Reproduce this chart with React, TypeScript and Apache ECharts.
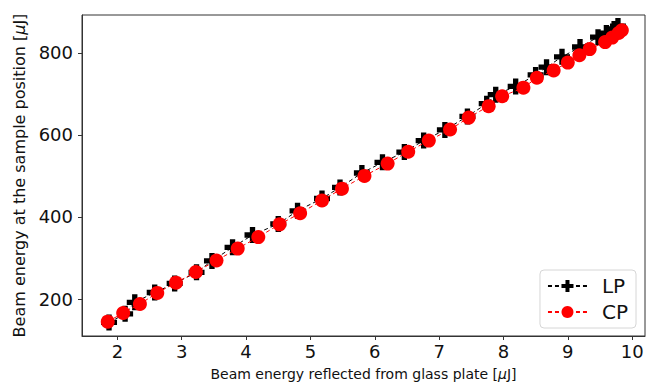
import React, { useEffect, useRef } from "react";
import * as echarts from "echarts";

const lpX = [1.87, 2.12, 2.27, 2.58, 2.89, 3.23, 3.47, 3.79, 4.10, 4.50, 4.80, 5.18, 5.46, 5.80, 6.12, 6.46, 6.76, 7.09, 7.44, 7.74, 7.88, 8.19, 8.50, 8.67, 8.91, 9.19, 9.47, 9.60, 9.72, 9.78];
const lpY = [143, 164, 192, 216, 238, 265, 293, 326, 356, 383, 415, 445, 472, 507, 533, 558, 586, 612, 645, 676, 698, 718, 746, 765, 790, 814, 838, 848, 858, 865];
const cpX = [1.85, 2.09, 2.35, 2.62, 2.91, 3.22, 3.54, 3.87, 4.19, 4.52, 4.84, 5.18, 5.49, 5.84, 6.20, 6.52, 6.84, 7.17, 7.46, 7.77, 7.98, 8.31, 8.52, 8.78, 9.00, 9.18, 9.34, 9.58, 9.69, 9.79, 9.84];
const cpY = [145, 166, 188, 215, 240, 266, 294, 323, 351, 382, 409, 440, 469, 500, 530, 559, 586, 613, 642, 670, 694, 715, 739, 757, 776, 794, 809, 826, 837, 848, 855];
const xTicks = [2, 3, 4, 5, 6, 7, 8, 9, 10];
const yTicks = [200, 400, 600, 800];
const seriesNames = ["LP", "CP"];

const PLUS = "path://M5,0H10V5H15V10H10V15H5V10H0V5H5Z";
const FONT = "DejaVu Sans";

export default function App() {
  const ref = useRef<HTMLDivElement>(null);
  useEffect(() => {
    if (!ref.current) return;
    const chart = echarts.init(ref.current, null, { renderer: "svg" });
    chart.setOption({
      animation: false,
      grid: {
        left: 82,
        top: 15,
        right: 9,
        bottom: 49,
        show: true,
        borderColor: "#333",
        borderWidth: 1,
        backgroundColor: "transparent",
      },
      legend: {
        orient: "vertical",
        right: 18,
        bottom: 58,
        backgroundColor: "#fff",
        borderColor: "#d6d6d6",
        borderWidth: 1,
        borderRadius: 4,
        padding: [6, 8, 6, 7],
        itemWidth: 39,
        itemHeight: 15,
        itemGap: 6,
        textStyle: { fontFamily: FONT, fontSize: 20, color: "#111", padding: [0, 0, 0, 10] },
        data: seriesNames,
      },
      xAxis: {
        type: "value",
        min: 1.45,
        max: 10.2,
        splitLine: { show: false },
        axisLine: { show: true, onZero: false, lineStyle: { color: "#333" } },
        axisTick: { show: true, length: 4, customValues: xTicks, lineStyle: { color: "#333" } },
        axisLabel: {
          customValues: xTicks,
          fontFamily: FONT,
          fontSize: 18,
          color: "#111",
          margin: 6,
        },
        name: "Beam energy reflected from glass plate [{i|μ}J]",
        nameLocation: "middle",
        nameGap: 31,
        nameTextStyle: {
          fontFamily: FONT,
          fontSize: 14,
          color: "#111",
          rich: { i: { fontStyle: "italic", fontFamily: FONT, fontSize: 14, color: "#111" } },
        },
      },
      yAxis: {
        type: "value",
        min: 110,
        max: 892,
        splitLine: { show: false },
        axisLine: { show: true, onZero: false, lineStyle: { color: "#333" } },
        axisTick: { show: true, length: 4, customValues: yTicks, lineStyle: { color: "#333" } },
        axisLabel: {
          customValues: yTicks,
          fontFamily: FONT,
          fontSize: 18,
          color: "#111",
          margin: 9,
        },
        name: "Beam energy at the sample position [{i|μ}J]",
        nameLocation: "middle",
        nameGap: 55,
        nameTextStyle: {
          fontFamily: FONT,
          fontSize: 16,
          color: "#111",
          rich: { i: { fontStyle: "italic", fontFamily: FONT, fontSize: 16, color: "#111" } },
        },
      },
      series: [
        {
          name: seriesNames[0],
          type: "line",
          data: lpX.map((x, i) => [x, lpY[i]]),
          symbol: PLUS,
          symbolSize: 16,
          itemStyle: { color: "#000" },
          lineStyle: { color: "#000", width: 1, type: [4, 3] },
          z: 2,
        },
        {
          name: seriesNames[1],
          type: "line",
          data: cpX.map((x, i) => [x, cpY[i]]),
          symbol: "circle",
          symbolSize: 14,
          itemStyle: { color: "#ff0000" },
          lineStyle: { color: "#ff0000", width: 1, type: [4, 3] },
          z: 3,
        },
      ],
    });
    return () => chart.dispose();
  }, []);
  return (
    <div
      ref={ref}
      style={{ position: "fixed", left: 0, top: 0, width: 654, height: 386, background: "#fff" }}
    />
  );
}
